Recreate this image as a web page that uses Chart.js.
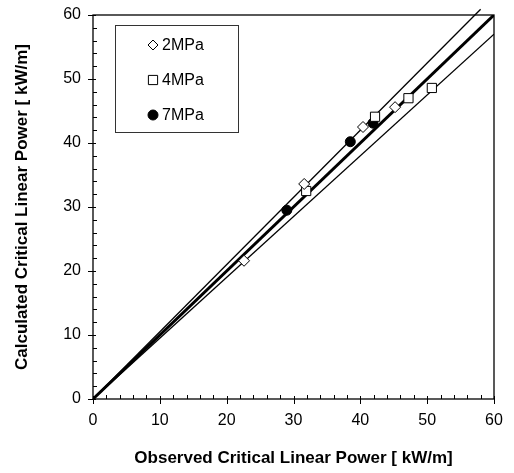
<!DOCTYPE html>
<html>
<head>
<meta charset="utf-8">
<script src="https://cdn.jsdelivr.net/npm/chart.js@4.4.1/dist/chart.umd.min.js"></script>
<style>
  html, body { margin: 0; padding: 0; background: #fff; }
  #wrap { width: 514px; height: 473px; }
</style>
</head>
<body>
<div id="wrap"><canvas id="powerChart"></canvas></div>
<script>
// observed vs calculated critical linear power [kW/m]
let obs2MPa = [22.6, 31.6, 40.4, 45.2];
let calc2MPa = [21.6, 33.6, 42.5, 45.6];
let obs4MPa = [31.9, 42.2, 47.2, 50.7];
let calc4MPa = [32.5, 44.1, 47.0, 48.6];
let obs7MPa = [29.0, 38.5, 41.9];
let calc7MPa = [29.5, 40.2, 43.1];

// reference lines (end points)
let lineX = [0, 60];
let lineY = [0, 60];
let upperX = [0, 58];
let upperY = [0, 60.9];
let lowerX = [0, 60];
let lowerY = [0, 57];

let axisTicks = [0, 10, 20, 30, 40, 50, 60];
let minorStep = 2;

function toPoints(xs, ys) {
    return xs.map(function (v, i) { return { x: v, y: ys[i] }; });
}

let fontName = '"Liberation Sans", Arial, sans-serif';

/* box, inside ticks and legend drawn on top */
let framePlugin = {
    id: 'frame',
    afterDraw: function (chart) {
        let ctx = chart.ctx;
        let a = chart.chartArea;
        let xs = chart.scales.x;
        let ys = chart.scales.y;
        ctx.save();
        ctx.strokeStyle = '#000';
        ctx.lineWidth = 1.3;
        ctx.strokeRect(a.left, a.top, a.right - a.left, a.bottom - a.top);

        ctx.lineWidth = 1;
        ctx.beginPath();
        for (let v = 0; v <= 60; v += minorStep) {
            let px = Math.round(xs.getPixelForValue(v)) + 0.5;
            let py = Math.round(ys.getPixelForValue(v)) + 0.5;
            if (axisTicks.indexOf(v) >= 0) {
                ctx.moveTo(px, a.bottom - 3); ctx.lineTo(px, a.bottom + 5);
                ctx.moveTo(a.left + 3, py); ctx.lineTo(a.left - 5, py);
            } else {
                ctx.moveTo(px, a.bottom); ctx.lineTo(px, a.bottom - 4);
                ctx.moveTo(a.left, py); ctx.lineTo(a.left + 4, py);
            }
        }
        ctx.stroke();

        // legend box
        let bx = 115, by = 25, bw = 123, bh = 107;
        ctx.fillStyle = '#fff';
        ctx.fillRect(bx, by, bw, bh);
        ctx.lineWidth = 1;
        ctx.strokeStyle = '#333';
        ctx.strokeRect(bx + 0.5, by + 0.5, bw, bh);
        ctx.font = '16px ' + fontName;
        ctx.textBaseline = 'middle';
        ctx.textAlign = 'left';
        for (let i = 0; i < 3; i++) {
            let ds = chart.data.datasets[i];
            let ly = 45 + i * 35;
            ctx.strokeStyle = '#000';
            ctx.fillStyle = ds.pointBackgroundColor;
            ctx.lineWidth = 1;
            Chart.helpers.drawPoint(ctx, {
                pointStyle: ds.pointStyle,
                radius: ds.legendRadius,
                borderWidth: 1
            }, 153, ly);
            ctx.fillStyle = '#000';
            ctx.fillText(ds.label, 162, ly + 1);
        }
        ctx.restore();
    }
};

new Chart(document.getElementById('powerChart'), {
    type: 'scatter',
    data: {
        datasets: [
            {
                label: '2MPa',
                data: toPoints(obs2MPa, calc2MPa),
                pointStyle: 'rectRot',
                pointRadius: 5.5,
                legendRadius: 5,
                pointBackgroundColor: '#fff',
                pointBorderColor: '#000',
                pointBorderWidth: 1
            },
            {
                label: '4MPa',
                data: toPoints(obs4MPa, calc4MPa),
                pointStyle: 'rect',
                pointRadius: 6.5,
                legendRadius: 6.5,
                pointBackgroundColor: '#fff',
                pointBorderColor: '#000',
                pointBorderWidth: 1
            },
            {
                label: '7MPa',
                data: toPoints(obs7MPa, calc7MPa),
                pointStyle: 'circle',
                pointRadius: 5,
                legendRadius: 5,
                pointBackgroundColor: '#000',
                pointBorderColor: '#000',
                pointBorderWidth: 1
            },
            {
                label: 'y=x',
                type: 'line',
                data: toPoints(lineX, lineY),
                borderColor: '#000',
                borderWidth: 3,
                pointRadius: 0,
                fill: false
            },
            {
                label: 'upper',
                type: 'line',
                data: toPoints(upperX, upperY),
                borderColor: '#000',
                borderWidth: 1.3,
                pointRadius: 0,
                clip: false,
                fill: false
            },
            {
                label: 'lower',
                type: 'line',
                data: toPoints(lowerX, lowerY),
                borderColor: '#000',
                borderWidth: 1.3,
                pointRadius: 0,
                fill: false
            }
        ]
    },
    options: {
        responsive: true,
        maintainAspectRatio: false,
        animation: false,
        layout: { padding: { top: 15, right: 20, left: 0, bottom: 0 } },
        plugins: {
            legend: { display: false },
            tooltip: { enabled: false }
        },
        scales: {
            x: {
                type: 'linear',
                min: 0,
                max: 60,
                afterFit: function (scale) {
                    scale.height = 74;
                    scale.paddingLeft = 0;
                    scale.paddingRight = 0;
                },
                afterBuildTicks: function (scale) {
                    scale.ticks = axisTicks.map(function (v) { return { value: v }; });
                },
                grid: { display: false, drawTicks: false },
                border: { display: false },
                ticks: {
                    color: '#000',
                    padding: 12,
                    maxRotation: 0,
                    font: { family: fontName, size: 16 }
                },
                title: {
                    display: true,
                    text: 'Observed Critical Linear Power [ kW/m]',
                    color: '#000',
                    padding: { top: 18 },
                    font: { family: fontName, size: 17, weight: 'bold' }
                }
            },
            y: {
                type: 'linear',
                min: 0,
                max: 60,
                afterFit: function (scale) {
                    scale.width = 93;
                    scale.paddingTop = 0;
                    scale.paddingBottom = 0;
                },
                afterBuildTicks: function (scale) {
                    scale.ticks = axisTicks.map(function (v) { return { value: v }; });
                },
                grid: { display: false, drawTicks: false },
                border: { display: false },
                ticks: {
                    color: '#000',
                    padding: 12,
                    font: { family: fontName, size: 16 }
                },
                title: {
                    display: true,
                    text: 'Calculated Critical Linear Power [ kW/m]',
                    color: '#000',
                    padding: { top: 12, bottom: 0 },
                    font: { family: fontName, size: 17, weight: 'bold' }
                }
            }
        }
    },
    plugins: [framePlugin]
});
</script>
</body>
</html>
